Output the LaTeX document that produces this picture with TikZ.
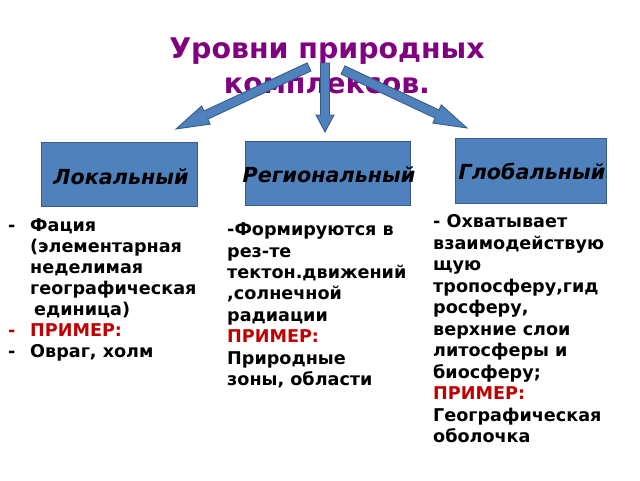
\documentclass[tikz,border=0pt]{standalone}
\usepackage{fontspec}
\setmainfont{DejaVu Sans}
\usetikzlibrary{calc}
\definecolor{boxfill}{HTML}{4F81BD}
\definecolor{boxline}{HTML}{385D8A}
\definecolor{titlecol}{HTML}{800080}
\definecolor{redcol}{HTML}{C00000}
\tikzset{
  levelbox/.style={draw=boxline, line width=1pt, fill=boxfill, inner sep=0pt},
  levellabel/.style={font=\fontsize{20.7}{24}\selectfont\bfseries\itshape, text=black, inner sep=0pt},
  blockarrow/.style={draw=boxline, line width=0.9pt, fill=boxfill, line join=miter},
  bodytext/.style={font=\fontsize{17.6}{#1}\selectfont\bfseries, align=left, anchor=north west, inner sep=0pt},
  titletext/.style={font=\fontsize{28.4}{35}\selectfont\bfseries, text=titlecol, align=center, inner sep=0pt}
}
% #1 tail, #2 tip, #3 head length, #4 head half width
\newcommand\myblockarrow[4]{%
  \path ($(#2)!#3!(#1)$) coordinate (bh);
  \filldraw[blockarrow] ($(#1)!4.5pt!90:(#2)$) -- ($(bh)!4.5pt!-90:(#1)$)
    -- ($(bh)!#4!-90:(#1)$) -- (#2) -- ($(bh)!#4!90:(#1)$)
    -- ($(bh)!4.5pt!90:(#1)$) -- ($(#1)!4.5pt!-90:(#2)$) -- cycle;
}
\newcommand\bul{\llap{\makebox[22pt][l]{-}}}
\newcommand\rbul{\llap{\makebox[22pt][l]{\color{redcol}-}}}
\begin{document}
\begin{tikzpicture}[x=1pt,y=-1pt]
\useasboundingbox[fill=white] (0,0) rectangle (640,480);
% title
\node[titletext] (title) at (327,66) {Уровни природных\\комплексов.};
% arrows
\coordinate (aLs) at (309,67);
\coordinate (aLe) at (176,129);
\coordinate (aMs) at (325,63);
\coordinate (aMe) at (325,132);
\coordinate (aRs) at (343,70);
\coordinate (aRe) at (467,128);
\myblockarrow{aLs}{aLe}{33pt}{10pt}
\myblockarrow{aMs}{aMe}{17pt}{9pt}
\myblockarrow{aRs}{aRe}{33pt}{10pt}
% boxes
\node[levelbox, minimum width=156pt, minimum height=64pt] (boxL) at (119,174.5) {};
\node[levelbox, minimum width=165pt, minimum height=64pt] (boxR) at (327.5,173) {};
\node[levelbox, minimum width=151pt, minimum height=65pt] (boxG) at (531,170.5) {};
\node[levellabel] (labL) at (121,177) {Локальный};
\node[levellabel] (labR) at (329,175) {Региональный};
\node[levellabel] (labG) at (532,171) {Глобальный};
% texts
\node[bodytext=20.9pt] (txtL) at (30,215.5) {\rule{0pt}{16pt}\bul Фация\\(элементарная\\неделимая\\географическая\\\hspace{4pt}единица)\\\rbul{\color{redcol}ПРИМЕР:}\\\bul Овраг, холм};
\node[bodytext=21.4pt] (txtR) at (227,219.5) {\rule{0pt}{16pt}-Формируются в\\рез-те\\тектон.движений\\,солнечной\\радиации\\{\color{redcol}ПРИМЕР:}\\Природные\\зоны, области};
\node[bodytext=21.5pt] (txtG) at (433,211.5) {\rule{0pt}{16pt}- Охватывает\\взаимодействую\\щую\\тропосферу,гид\\росферу,\\верхние слои\\литосферы и\\биосферу;\\{\color{redcol}ПРИМЕР:}\\Географическая\\оболочка};
\end{tikzpicture}
\end{document}
